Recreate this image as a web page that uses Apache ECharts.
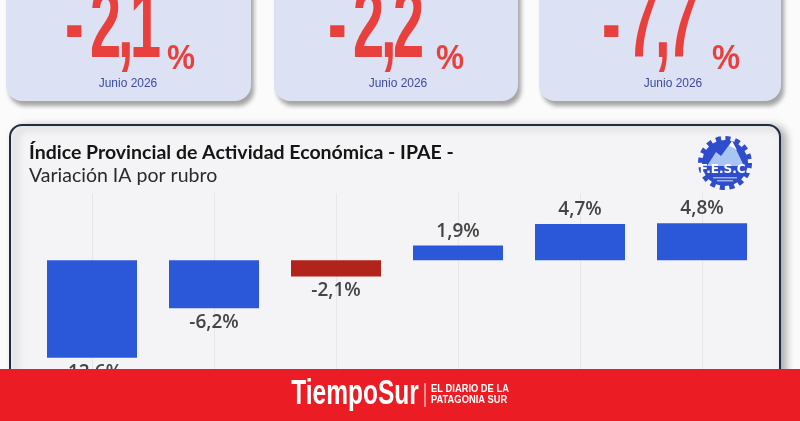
<!DOCTYPE html>
<html>
<head>
<meta charset="utf-8">
<script src="https://cdn.jsdelivr.net/npm/echarts@6/dist/echarts.min.js"></script>
<style>
html,body{margin:0;padding:0;background:#fbfbfc;}
#c{width:800px;height:421px;}
</style>
</head>
<body>
<div id="c"></div>
<script>
// ---- data ----
const categories = ['Rubro 1', 'Rubro 2', 'Rubro 3', 'Rubro 4', 'Rubro 5', 'Rubro 6'];
const values = [-12.6, -6.2, -2.1, 1.9, 4.7, 4.8];
const highlightIndex = 2;
const cardValues = ['-2,1', '-2,2', '-7,7'];
const cardPeriods = ['Junio 2026', 'Junio 2026', 'Junio 2026'];
const titleText = 'Índice Provincial de Actividad Económica - IPAE -';
const subtitleText = 'Variación IA por rubro';

// ---- layout / style ----
const BLUE = '#2b58d8', RED = '#b2231b';
const cards = [
  {x: 6, w: 245, num: 66, pct: 167, per: 128},
  {x: 274, w: 244, num: 329, pct: 436, per: 398},
  {x: 539, w: 242, num: 603, pct: 712, per: 673}
];
const charOffsets = [-1, 24, 52, 64];

const chart = echarts.init(document.getElementById('c'));
const graphics = [];

// cards
cards.forEach((c, i) => {
  graphics.push({
    type: 'rect', z: 1,
    shape: {x: c.x, y: -30, width: c.w, height: 131, r: 16},
    style: {fill: '#dde1f4', shadowColor: 'rgba(0,0,0,0.35)', shadowBlur: 4, shadowOffsetX: 3, shadowOffsetY: 5}
  });
  cardValues[i].split('').forEach((ch, k) => {
    graphics.push({
      type: 'text', z: 2, x: c.num + charOffsets[k], y: 30, scaleX: 0.57,
      style: {text: ch, font: 'bold 98px "Liberation Sans", sans-serif',
        fill: '#e8403d', textAlign: 'left', textVerticalAlign: 'middle'}
    });
  });
  graphics.push({
    type: 'text', z: 2, x: c.pct, y: 59, scaleX: 0.9,
    style: {text: '%', font: 'bold 35px "Liberation Sans", sans-serif',
      fill: '#e8403d', textAlign: 'left', textVerticalAlign: 'middle'}
  });
  graphics.push({
    type: 'text', z: 2, x: c.per, y: 83, scaleX: 0.92,
    style: {text: cardPeriods[i], font: '13px "Liberation Sans", sans-serif',
      fill: '#3d4b9e', textAlign: 'center', textVerticalAlign: 'middle'}
  });
});

// chart panel
graphics.push({
  type: 'rect', z: 0,
  shape: {x: 10, y: 125, width: 770, height: 330, r: 12},
  style: {fill: '#f4f4f6', stroke: '#1f2b3f', lineWidth: 2,
    shadowColor: 'rgba(0,0,0,0.3)', shadowBlur: 8, shadowOffsetX: 5, shadowOffsetY: 2}
});
graphics.push({
  type: 'text', z: 3, x: 29, y: 153,
  style: {text: titleText, font: 'bold 19.5px Lato, sans-serif', fill: '#151515', textVerticalAlign: 'middle'}
});
graphics.push({
  type: 'text', z: 3, x: 29, y: 176,
  style: {text: subtitleText, font: '19.5px Lato, sans-serif', fill: '#2a2a2a', textVerticalAlign: 'middle'}
});

// logo F.E.S.C.
graphics.push({type: 'circle', z: 3, shape: {cx: 725, cy: 163, r: 24},
  style: {fill: 'none', stroke: '#2e4ccc', lineWidth: 6, lineDash: [5, 4.4]}});
graphics.push({type: 'circle', z: 3, shape: {cx: 725, cy: 163, r: 23}, style: {fill: '#2e4ccc'}});
graphics.push({type: 'polygon', z: 4,
  shape: {points: [[707, 166], [716, 152], [721, 156], [732, 141], [744, 166]]},
  style: {fill: '#a9c6f2'}});
graphics.push({type: 'polygon', z: 4,
  shape: {points: [[729, 146], [732, 141], [737, 150], [734, 148]]},
  style: {fill: '#ffffff'}});
graphics.push({type: 'text', z: 5, x: 725, y: 170,
  style: {text: 'F.E.S.C.', font: 'bold 12px "DejaVu Sans", sans-serif', fill: '#ffffff', textAlign: 'center', textVerticalAlign: 'middle'}});
graphics.push({type: 'rect', z: 5, shape: {x: 713, y: 177, width: 24, height: 1.5}, style: {fill: '#9fb3ea'}});
graphics.push({type: 'rect', z: 5, shape: {x: 717, y: 180, width: 16, height: 1.5}, style: {fill: '#9fb3ea'}});

// bottom banner
graphics.push({type: 'rect', z: 100, shape: {x: 0, y: 369, width: 800, height: 52}, style: {fill: '#ec1c24'}});
graphics.push({type: 'text', z: 101, x: 355, y: 394, scaleX: 0.70,
  style: {text: 'TiempoSur', font: 'bold 35px "Liberation Sans", sans-serif', fill: '#ffffff',
    textAlign: 'center', textVerticalAlign: 'middle'}});
graphics.push({type: 'line', z: 101, shape: {x1: 425, y1: 383, x2: 425, y2: 407}, style: {stroke: '#ffffff', lineWidth: 1}});
graphics.push({type: 'text', z: 101, x: 431, y: 389, scaleX: 0.85,
  style: {text: 'EL DIARIO DE LA', font: 'bold 11px "Liberation Sans", sans-serif', fill: '#ffffff', textVerticalAlign: 'middle'}});
graphics.push({type: 'text', z: 101, x: 431, y: 400, scaleX: 0.85,
  style: {text: 'PATAGONIA SUR', font: 'bold 11px "Liberation Sans", sans-serif', fill: '#ffffff', textVerticalAlign: 'middle'}});

const fmt = v => (v.toFixed(1)).replace('.', ',') + '%';

chart.setOption({
  backgroundColor: '#fbfbfc',
  animation: false,
  grid: {left: 31, right: 37, top: 193, height: 222},
  xAxis: {
    type: 'category', data: categories,
    axisLine: {show: false}, axisTick: {show: false}, axisLabel: {show: false}, splitLine: {show: false}
  },
  yAxis: {type: 'value', min: -20, max: 8.7, show: false, splitLine: {show: false}},
  graphic: graphics,
  series: [{
    type: 'bar', z: 10,
    barWidth: 90,
    data: values.map((v, i) => ({
      value: v,
      itemStyle: {color: i === highlightIndex ? RED : BLUE},
      label: {position: v < 0 ? 'bottom' : 'top'}
    })),
    label: {
      show: true, distance: 5,
      fontFamily: 'Open Sans', fontWeight: 600, fontSize: 19, color: '#444444',
      formatter: p => fmt(p.value)
    },
    markLine: {
      z: 1, silent: true, symbol: 'none', label: {show: false},
      lineStyle: {color: '#e7e7ea', width: 1, type: 'solid'},
      data: categories.map(c => ({xAxis: c}))
    }
  }]
});
</script>
</body>
</html>
